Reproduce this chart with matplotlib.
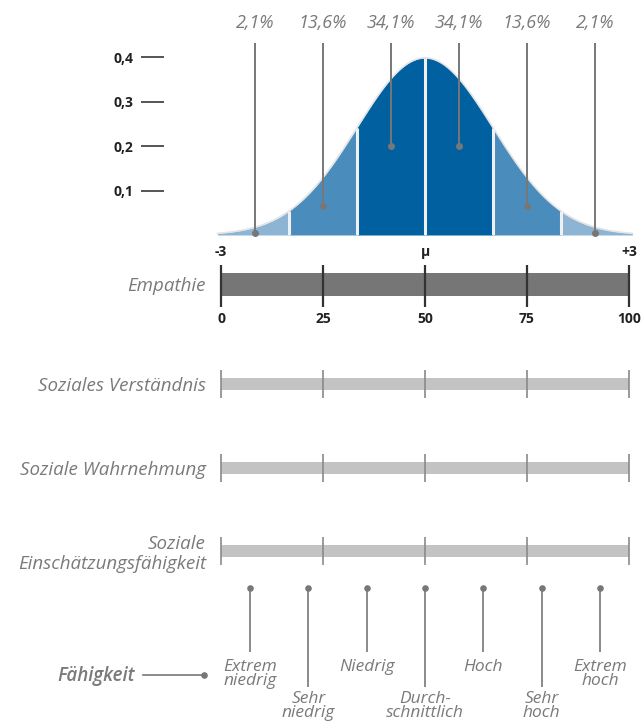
import numpy as np
import matplotlib
matplotlib.use("Agg")
import matplotlib.pyplot as plt
from matplotlib.transforms import blended_transform_factory

# ---------------- data ----------------
sigma_edges = [-3, -2, -1, 0, 1, 2, 3]
band_colors = ["#8db4d3", "#4a8dbc", "#0060a0", "#0060a0", "#4a8dbc", "#8db4d3"]
pct_labels = ["2,1%", "13,6%", "34,1%", "34,1%", "13,6%", "2,1%"]
pct_x = [-2.5, -1.5, -0.5, 0.5, 1.5, 2.5]
pct_dot_y = [0.005, 0.065, 0.2, 0.2, 0.065, 0.005]
density_ticks = [0.1, 0.2, 0.3, 0.4]
density_labels = ["0,1", "0,2", "0,3", "0,4"]
sigma_ticks = [-3, 0, 3]
sigma_labels = ["-3", "μ", "+3"]

scale_ticks = [0, 25, 50, 75, 100]
scale_labels = ["0", "25", "50", "75", "100"]
rows = ["Empathie", "Soziales Verständnis", "Soziale Wahrnehmung", "Soziale\nEinschätzungsfähigkeit"]
row_values = [100, 100, 100, 100]

ability_labels = ["Extrem\nniedrig", "Sehr\nniedrig", "Niedrig", "Durch-\nschnittlich",
                  "Hoch", "Sehr\nhoch", "Extrem\nhoch"]
ability_x = [(i + 0.5) * 100 / 7 for i in range(7)]
ability_level = [0, 1, 0, 1, 0, 1, 0]

# ---------------- style ----------------
GRAY_TXT = "#7a7a7a"
ITAL = dict(family="Open Sans", style="italic", color=GRAY_TXT)
BOLD = dict(family="Open Sans", weight="bold", color="#222222")

W, H = 643, 724
fig = plt.figure(figsize=(W / 100, H / 100), dpi=100)
fig.patch.set_facecolor("white")


def ax_at(x0, y0, x1, y1):
    return fig.add_axes([x0 / W, 1 - y1 / H, (x1 - x0) / W, (y1 - y0) / H])


def px2pt(p):
    return p * 72 / 100


# ---------------- normal curve ----------------
ax = ax_at(221, 13, 629, 235)
ax.set_xlim(-3, 3)
ax.set_ylim(0, 0.5)
xs = np.linspace(-3.05, 3.05, 800)
pdf = np.exp(-xs ** 2 / 2) / np.sqrt(2 * np.pi)
for i in range(len(sigma_edges) - 1):
    a, b = sigma_edges[i], sigma_edges[i + 1]
    m = (xs >= a - 1e-9) & (xs <= b + 1e-9)
    if i == 0:
        m = xs <= b
    if i == len(sigma_edges) - 2:
        m = xs >= a
    ax.fill_between(xs[m], 0, pdf[m], color=band_colors[i], lw=0, clip_on=False, zorder=1)
ax.plot(xs, pdf, color="#e4e4e4", lw=1.2, clip_on=False, zorder=2)
for e in sigma_edges[1:-1]:
    ax.vlines(e, 0, np.exp(-e ** 2 / 2) / np.sqrt(2 * np.pi), color="#f0f0f0", lw=2.2, zorder=3)

ax.vlines(pct_x, pct_dot_y, 0.432, color="#777777", lw=1.4, clip_on=False, zorder=4)
ax.scatter(pct_x, pct_dot_y, s=16, color="#777777", zorder=5, clip_on=False)
for x, lab in zip(pct_x, pct_labels):
    ax.text(x, 0.478, lab, ha="center", va="center", fontsize=13, clip_on=False, **ITAL)

for s in ["top", "right", "bottom"]:
    ax.spines[s].set_visible(False)
ax.spines["left"].set_position(("outward", px2pt(57)))
ax.spines["left"].set_visible(False)
ax.set_yticks(density_ticks)
ax.set_yticklabels(density_labels, **BOLD, fontsize=10)
ax.tick_params(axis="y", length=px2pt(23), width=1.4, color="#555555", pad=px2pt(8))
ax.set_xticks(sigma_ticks)
ax.set_xticklabels(sigma_labels, **BOLD, fontsize=10)
ax.tick_params(axis="x", length=0, pad=px2pt(10))
ax.patch.set_visible(False)

# ---------------- rows ----------------
row_centers = [284, 384, 468, 551]
for r, (name, val, cy) in enumerate(zip(rows, row_values, row_centers)):
    if r == 0:
        half_t, half_b, col, tcol, tw = 19, 23, "#767676", "#333333", 1.6
    else:
        half_t, half_b, col, tcol, tw = 14, 14, "#c3c3c3", "#8a8a8a", 1.2
    bax = ax_at(221, cy - half_t, 629, cy + half_b)
    bax.set_xlim(0, 100)
    tot = half_t + half_b
    bar_h = 23 if r == 0 else 12
    yc = half_b / tot
    bax.set_ylim(0, 1)
    bax.barh(yc, val, height=bar_h / tot, left=0, color=col, zorder=1)
    bax.vlines(scale_ticks, 0, 1, color=tcol, lw=tw, clip_on=False, zorder=2)
    for s in bax.spines.values():
        s.set_visible(False)
    bax.set_yticks([yc])
    bax.set_yticklabels([name], fontsize=13.5, **ITAL, linespacing=1.15)
    bax.tick_params(axis="y", length=0, pad=px2pt(15))
    if r == 0:
        bax.set_xticks(scale_ticks)
        bax.set_xticklabels(scale_labels, **BOLD, fontsize=10)
        bax.tick_params(axis="x", length=0, pad=px2pt(5))
    else:
        bax.set_xticks([])
    bax.patch.set_visible(False)

# ---------------- ability scale ----------------
aax = ax_at(221, 580, 629, 724)
aax.set_xlim(0, 100)
aax.set_ylim(144, 0)
aax.axis("off")
dot_y = 8
line_end = [72, 107]
label_top = [79, 111]
for x, lab, lev in zip(ability_x, ability_labels, ability_level):
    aax.vlines(x, dot_y, line_end[lev], color="#8a8a8a", lw=1.4, zorder=2)
    aax.scatter([x], [dot_y], s=14, color="#777777", zorder=3)
    aax.text(x, label_top[lev], lab, ha="center", va="top", fontsize=12.5,
             linespacing=0.82, **ITAL)

# "Fähigkeit" legend-ish label
tr = blended_transform_factory(fig.transFigure, aax.transData)
aax.plot([143 / W, 204 / W], [95, 95], color="#777777", lw=1.2, transform=tr, clip_on=False)
aax.scatter([204 / W], [95], s=14, color="#777777", transform=tr, clip_on=False)
aax.text(135 / W, 96, "Fähigkeit", ha="right", va="center", fontsize=13.5,
         family="Open Sans", style="italic", weight="semibold", color=GRAY_TXT,
         transform=tr)

fig.savefig("out.png", dpi=100, facecolor="white")
